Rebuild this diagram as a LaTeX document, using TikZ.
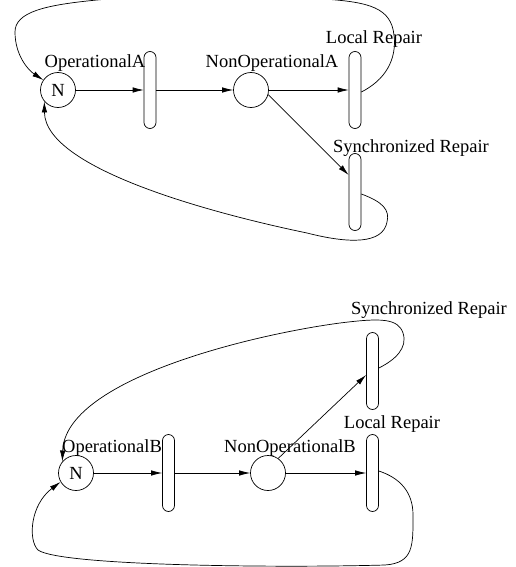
\documentclass[tikz,border=0pt]{standalone}
\usepackage{fontspec}
\setmainfont{Liberation Serif}
\usetikzlibrary{arrows.meta,calc}
\begin{document}
\begin{tikzpicture}[x=1pt,y=-1pt,
  place/.style={circle,draw,line width=0.7pt,minimum size=35pt,inner sep=0pt},
  trans/.style={rectangle,draw,line width=0.7pt,rounded corners=6pt,minimum width=12pt,minimum height=77pt,inner sep=0pt},
  lbl/.style={anchor=base,inner sep=0pt},
  arr/.style={line width=0.7pt,-{Latex[length=11pt,width=5.5pt]}},
  loop/.style={line width=0.7pt,-{Latex[length=11pt,width=5.5pt]}},
  font=\fontsize{18.5}{20}\selectfont]
\useasboundingbox (0,0) rectangle (515,567);

% ---------- top net ----------
\node[place] (pA) at (58,90) {N};
\node[trans] (tA) at (150,90) {};
\node[place] (nA) at (251,90) {};
\node[trans] (lrA) at (355,90) {};
\node[trans] (srA) at (355,192) {};

\node[lbl] (lpA) at (95,68) {OperationalA};
\node[lbl] (lnA) at (272,68) {NonOperationalA};
\node[lbl] (llrA) at (374,44) {Local Repair};
\node[lbl] (lsrA) at (411,152) {Synchronized Repair};

\draw[arr] (pA) -- (tA);
\draw[arr] (tA) -- (nA);
\draw[arr] (nA) -- (lrA);
\draw[arr] (nA.-15) -- ($(srA.west)+(0,-17)$);

\draw[loop] ($(lrA.east)+(0,2)$) .. controls (385,80) and (397,60) .. (394,35)
  .. controls (391,8) and (370,2) .. (323,-1)
  .. controls (250,-6) and (150,-5) .. (97,0)
  .. controls (45,5) and (15,12) .. (15,32)
  .. controls (15,55) and (28,70) .. (pA.146);

\draw[loop] ($(srA.east)+(0,2)$) .. controls (383,202) and (390,210) .. (387,222)
  .. controls (383,244) and (350,244) .. (307,233)
  .. controls (220,215) and (45,170) .. (pA.-140);

% ---------- bottom net ----------
\node[place] (pB) at (76,473) {N};
\node[trans] (tB) at (168.5,473) {};
\node[place] (nB) at (268,473) {};
\node[trans] (lrB) at (372.5,473) {};
\node[trans] (srB) at (372.5,371) {};

\node[lbl] (lpB) at (112,452) {OperationalB};
\node[lbl] (lnB) at (290,452) {NonOperationalB};
\node[lbl] (llrB) at (392,428) {Local Repair};
\node[lbl] (lsrB) at (429,314) {Synchronized Repair};

\draw[arr] (pB) -- (tB);
\draw[arr] (tB) -- (nB);
\draw[arr] (nB) -- (lrB);
\draw[arr] (nB.55) -- ($(srB.west)+(0,4)$);

\draw[loop] ($(srB.east)+(0,-3)$) .. controls (395,360) and (408,348) .. (403,333)
  .. controls (398,318) and (380,318) .. (340,323)
  .. controls (250,335) and (65,380) .. (pB.140);

\draw[loop] ($(lrB.east)+(0,-2)$) .. controls (400,478) and (413,492) .. (413,515)
  .. controls (413,545) and (414,563) .. (385,565)
  .. controls (280,568) and (60,566) .. (38,550)
  .. controls (28,540) and (30,505) .. (pB.-150);
\end{tikzpicture}
\end{document}
